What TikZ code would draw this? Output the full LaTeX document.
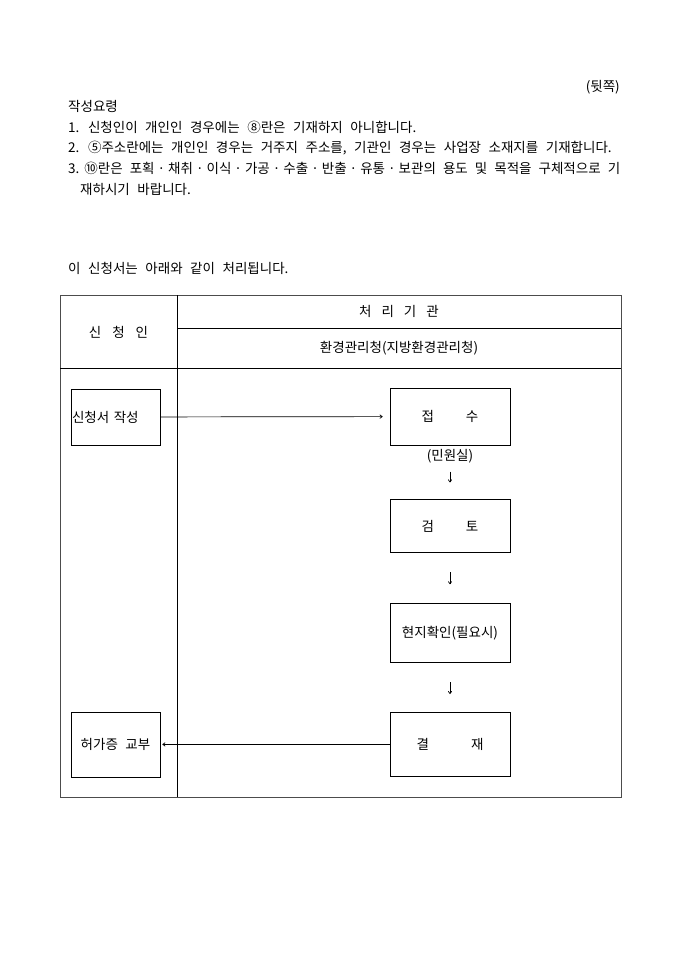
\documentclass[tikz,border=0pt]{standalone}
\usepackage{fontspec}
\setmainfont{Noto Sans CJK KR}[WordSpace=2.5]
\usepackage{tikz}
\usetikzlibrary{arrows.meta,positioning}
\newcommand{\middot}{\hskip 3pt plus 4pt·\hskip 3pt plus 4pt}

\begin{document}
\begin{tikzpicture}[x=1pt,y=-1pt,
  font=\fontsize{13.5}{16}\selectfont,
  txt/.style={inner sep=0pt,anchor=west},
  cell/.style={inner sep=0pt},
  frame/.style={draw=black!70,line width=1pt},
  stepbox/.style={draw,line width=0.8pt,inner sep=0pt,align=center,minimum width=120pt},
  sidebox/.style={draw,line width=0.8pt,inner sep=1pt,minimum width=89pt},
  flow/.style={-{To[length=3pt,width=4pt]},line width=0.7pt}]
\useasboundingbox (0,0) rectangle (680,962);

% --- notes above the table ---
\node[inner sep=0pt,anchor=east] (back) at (620,87) {(뒷쪽)};
\node[txt] (guide) at (68,106) {작성요령};
\node[txt] (item1) at (68,127) {1. 신청인이 개인인 경우에는 ⑧란은 기재하지 아니합니다.};
\node[txt] (item2) at (68,148) {2. ⑤주소란에는 개인인 경우는 거주지 주소를, 기관인 경우는 사업장 소재지를 기재합니다.};
\node[txt] (item3) at (68,168) {\makebox[552pt][s]{3.\hspace{5pt}⑩란은 포획\middot 채취\middot 이식\middot 가공\middot 수출\middot 반출\middot 유통\middot 보관의 용도 및 목적을 구체적으로 기}};
\node[txt] (item3b) at (80,189) {재하시기 바랍니다.};
\node[txt] (intro) at (68,268) {이 신청서는 아래와 같이 처리됩니다.};

% --- table frame ---
\draw[frame] (60,295) rectangle (621,797);
\draw[line width=0.8pt] (177,295) -- (177,797);
\draw[line width=0.8pt] (177,328) -- (621,328);
\draw[line width=0.8pt] (60,368) -- (621,368);
\node[cell] (applicant) at (118.5,332) {신\hspace{11pt}청\hspace{11pt}인};
\node[cell] (agency) at (399,311.5) {처\hspace{10pt}리\hspace{10pt}기\hspace{10pt}관};
\node[cell] (office) at (399,348) {환경관리청(지방환경관리청)};

% --- processing steps ---
\node[stepbox,minimum height=57pt] (receive) at (450,416.5) {접\hspace{32pt}수};
\node[cell,below=4pt of receive] (room) {(민원실)};
\node[stepbox,minimum height=53pt,below=54pt of receive] (review) {검\hspace{32pt}토};
\node[stepbox,minimum height=59pt,below=50pt of review] (site) {현지확인(필요시)};
\node[stepbox,minimum height=64pt,below=49pt of site] (approve) {결\hspace{42pt}재};

% --- applicant side ---
\node[sidebox,minimum height=56pt,text width=87pt,align=left] (apply) at (115.5,417) {신청서 작성};
\node[sidebox,minimum height=65pt] (issue) at (apply |- approve) {허가증 교부};

% --- connectors ---
\draw[flow,shorten >=7pt] (apply) -- (receive);
\draw[flow,shorten <=8pt,shorten >=17pt] (room) -- (review);
\draw[flow,shorten <=19pt,shorten >=19pt] (review) -- (site);
\draw[flow,shorten <=19pt,shorten >=18pt] (site) -- (approve);
\draw[flow,shorten >=2pt] (approve) -- (issue);
\end{tikzpicture}
\end{document}
